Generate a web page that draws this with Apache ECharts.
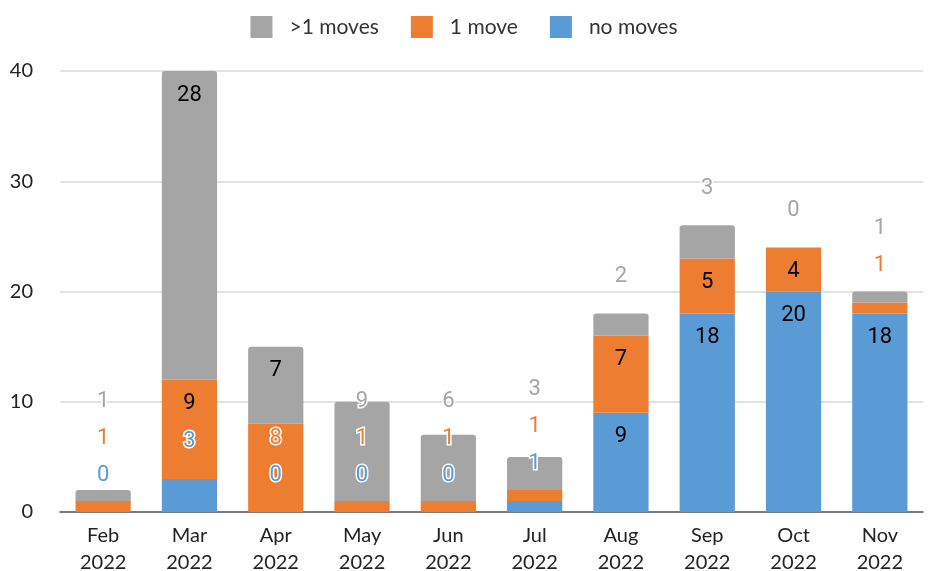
<!DOCTYPE html>
<html>
<head>
<meta charset="utf-8">
<script src="https://cdn.jsdelivr.net/npm/echarts@6/dist/echarts.min.js"></script>
<style>
  html, body { margin: 0; padding: 0; background: #fff; }
  #main { width: 928px; height: 571px; }
</style>
</head>
<body>
<div id="main"></div>
<script>
const categories = ['Feb\n2022', 'Mar\n2022', 'Apr\n2022', 'May\n2022', 'Jun\n2022',
                    'Jul\n2022', 'Aug\n2022', 'Sep\n2022', 'Oct\n2022', 'Nov\n2022'];
const noMoves    = [0, 3, 0, 0, 0, 1, 9, 18, 20, 18];
const oneMove    = [1, 9, 8, 1, 1, 1, 7, 5, 4, 1];
const multiMoves = [1, 28, 7, 9, 6, 3, 2, 3, 0, 1];
const yTicks = [0, 10, 20, 30, 40];

const seriesNames = ['no moves', '1 move', '>1 moves'];
const seriesColors = ['#5B9BD5', '#ED7D31', '#A5A5A5'];
const seriesValues = [noMoves, oneMove, multiMoves];

const chart = echarts.init(document.getElementById('main'));

// positions of the labels, filled after the first render
let labelPos = seriesValues.map(() => []);
let labelInside = seriesValues.map(() => []);

function buildSeries() {
    return seriesValues.map((vals, s) => ({
        name: seriesNames[s],
        type: 'bar',
        stack: 'total',
        barWidth: '64%',
        itemStyle: {
            color: seriesColors[s],
            borderRadius: s === 2 ? [3, 3, 0, 0] : 0
        },
        data: vals.map((v, i) => {
            const inside = labelInside[s][i];
            return {
                value: v,
                label: inside ? { color: '#000', textBorderWidth: 0 }
                              : { color: seriesColors[s], textBorderColor: '#fff', textBorderWidth: 3 }
            };
        }),
        label: {
            show: true,
            position: 'inside',
            fontFamily: 'Roboto',
            fontSize: 22
        },
        labelLayout: function (params) {
            const p = labelPos[params.seriesIndex] && labelPos[params.seriesIndex][params.dataIndex];
            if (!p) return {};
            return { x: p.x, y: p.y, align: 'center', verticalAlign: 'middle' };
        }
    }));
}

const option = {
    backgroundColor: '#fff',
    animation: false,
    legend: {
        top: 11,
        left: 'center',
        itemWidth: 22,
        itemHeight: 22,
        itemGap: 32,
        icon: 'rect',
        data: ['>1 moves', '1 move', 'no moves'],
        textStyle: {
            fontFamily: 'Lato',
            fontSize: 21,
            color: '#333',
            padding: [0, 0, 0, 12]
        }
    },
    grid: {
        left: 60,
        right: 5,
        top: 71,
        bottom: 59,
        outerBoundsMode: 'none'
    },
    xAxis: {
        type: 'category',
        data: categories,
        axisTick: { show: false },
        axisLine: { lineStyle: { color: '#595959', width: 1.5 } },
        axisLabel: {
            fontFamily: 'Lato',
            fontSize: 20,
            lineHeight: 27,
            color: '#222',
            margin: 10
        }
    },
    yAxis: {
        type: 'value',
        min: yTicks[0],
        max: yTicks[yTicks.length - 1],
        interval: yTicks[1] - yTicks[0],
        axisLine: { show: false },
        axisTick: { show: false },
        axisLabel: {
            fontFamily: 'Lato',
            fontSize: 20,
            color: '#222',
            margin: 27
        },
        splitLine: { lineStyle: { color: '#d9d9d9', width: 1.5 } }
    },
    series: buildSeries()
};

chart.setOption(option);

// place the labels: big segments get them inside the top end, small ones are
// lifted above, and every label keeps a minimum gap to the one below it
const GAP = 37;
categories.forEach((c, i) => {
    let base = 0;
    let prevY = Infinity;
    seriesValues.forEach((vals, s) => {
        const top = base + vals[i];
        const pTop = chart.convertToPixel({ gridIndex: 0 }, [i, top]);
        const pBase = chart.convertToPixel({ gridIndex: 0 }, [i, base]);
        const h = pBase[1] - pTop[1];
        const wanted = h > 38 ? pTop[1] + 24 : pTop[1] - GAP;
        const cap = prevY - GAP;
        const y = Math.min(wanted, cap);
        labelInside[s][i] = h > 38 && wanted <= cap;
        labelPos[s][i] = { x: pTop[0], y: y };
        prevY = y;
        base = top;
    });
});

chart.setOption({ series: buildSeries() });
</script>
</body>
</html>
